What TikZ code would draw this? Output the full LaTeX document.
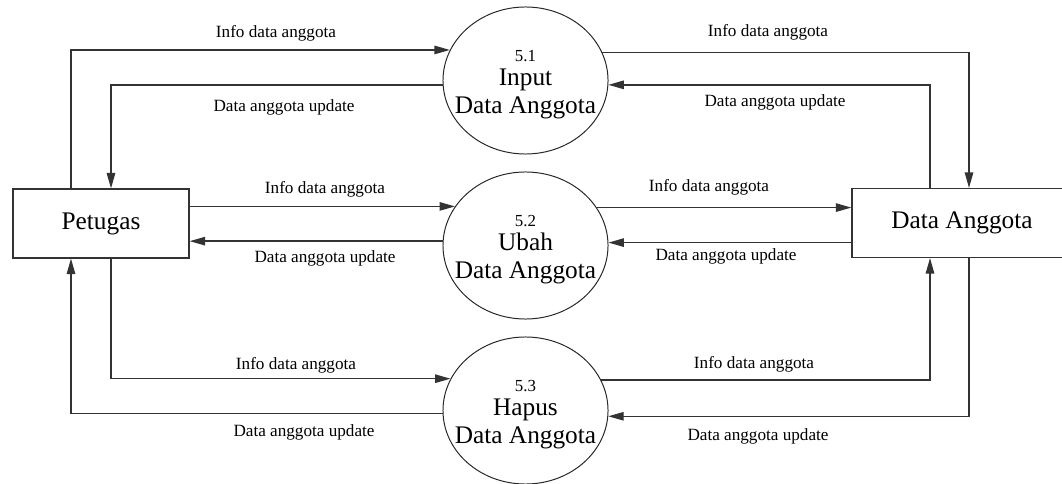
\documentclass[tikz,border=0pt]{standalone}
\usepackage{fontspec}
\setmainfont{Liberation Serif}
\usetikzlibrary{arrows.meta,shapes.geometric}
\tikzstyle{entity}=[rectangle,draw=black!80,line width=0.9pt,minimum height=1.72cm,inner sep=0pt,font=\fontsize{18}{20}\selectfont]
\tikzstyle{process}=[ellipse,draw=black!85,line width=0.7pt,minimum width=4.125cm,minimum height=3.675cm,inner xsep=-9pt,inner ysep=0pt,align=center,font=\fontsize{18}{20}\selectfont]
\tikzstyle{flow} = [draw=black!80,line width=1pt,-{Triangle[length=11pt,width=6pt]}]
\tikzstyle{datalabel} = [font=\fontsize{12.2}{14}\selectfont]

\begin{document}
\begin{tikzpicture}[x=0.025cm,y=-0.025cm]
    \useasboundingbox (0,0) rectangle (1062,484);
    % External entities
    \node[entity,minimum width=4.4cm] (pet) at (101,223.5) {Petugas};
    \node[entity,minimum width=5.5cm] (da) at (962,223) {Data Anggota};
    % The three processes
    \foreach \pos/\name/\num/\what in {{(525.5,80.5)/p1/5.1/Input}, {(525.5,245.5)/p2/5.2/Ubah},
                                       {(525.5,410.5)/p3/5.3/Hapus}}
        \node[process] (\name) at \pos {{\fontsize{12}{14}\selectfont\rule{0pt}{14pt}\num}\\[-3pt]\what\\Data Anggota};
    % Petugas <-> processes
    \draw[flow] ([xshift=-0.75cm]pet.north) |- (p1.158.7);
    \draw[flow] (p1.183.1) -| ([xshift=0.25cm]pet.north);
    \draw[flow] (pet.east |- p2.151.3) -- (p2.151.3);
    \draw[flow] (p2.177.6) -- (p2.177.6 -| pet.east);
    \draw[flow] ([xshift=0.25cm]pet.south) |- (p3.157.9);
    \draw[flow] (p3.182.4) -| ([xshift=-0.75cm]pet.south);
    % processes <-> Data Anggota
    \draw[flow] (p1.20.6) -| ([xshift=0.175cm]da.north);
    \draw[flow] ([xshift=-0.8cm]da.north) |- (p1.357.6);
    \draw[flow] (p2.28.7) -- (p2.28.7 -| da.west);
    \draw[flow] (da.west |- p2.2.4) -- (p2.2.4);
    \draw[flow] (p3.22.1) -| ([xshift=-0.8cm]da.south);
    \draw[flow] ([xshift=0.175cm]da.south) |- (p3.356.9);
    % Flow names
    \foreach \pos/\name/\txt in {{(276,33)/t1/Info data anggota}, {(284,107)/t2/Data anggota update},
                                 {(325,189)/t3/Info data anggota}, {(325,258)/t4/Data anggota update},
                                 {(296,365)/t5/Info data anggota}, {(304,432)/t6/Data anggota update},
                                 {(768,32)/t7/Info data anggota}, {(775,102)/t8/Data anggota update},
                                 {(709,187)/t9/Info data anggota}, {(726,256)/t10/Data anggota update},
                                 {(754,364)/t11/Info data anggota}, {(758,436)/t12/Data anggota update}}
        \node[datalabel] (\name) at \pos {\txt};
\end{tikzpicture}
\end{document}
